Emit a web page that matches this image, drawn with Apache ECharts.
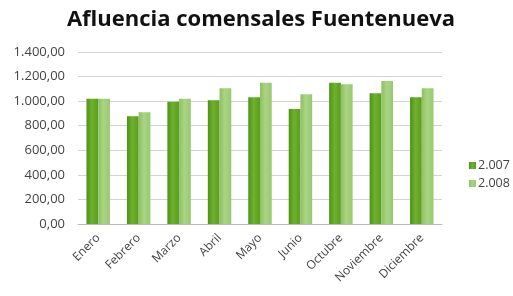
<!DOCTYPE html>
<html>
<head>
<meta charset="utf-8">
<script src="https://cdn.jsdelivr.net/npm/echarts@6/dist/echarts.min.js"></script>
<style>
  html, body { margin: 0; padding: 0; background: #fff; }
  #main { width: 513px; height: 296px; }
</style>
</head>
<body>
<div id="main"></div>
<script>
// datos
var meses = ['Enero', 'Febrero', 'Marzo', 'Abril', 'Mayo', 'Junio', 'Octubre', 'Noviembre', 'Diciembre'];
var serie2007 = [1020, 877, 995, 1007, 1031, 936, 1150, 1064, 1031];
var serie2008 = [1020, 909, 1020, 1104, 1150, 1056, 1137, 1164, 1104];
var yTicks = [0, 200, 400, 600, 800, 1000, 1200, 1400];

function fmt(v) {
  // 1400 -> "1.400,00"
  var s = String(Math.round(v));
  s = s.replace(/\B(?=(\d{3})+(?!\d))/g, '.');
  return s + ',00';
}

var myChart = echarts.init(document.getElementById('main'));
myChart.setOption({
  backgroundColor: '#fff',
  animation: false,
  title: {
    text: 'Afluencia comensales Fuentenueva',
    left: 256,
    textAlign: 'center',
    top: 4,
    textStyle: {
      fontFamily: 'Open Sans',
      fontWeight: 'bold',
      fontSize: 22,
      color: '#111'
    }
  },
  legend: {
    orient: 'vertical',
    left: 464,
    top: 154,
    itemWidth: 7,
    itemHeight: 7,
    itemGap: 5,
    icon: 'rect',
    textStyle: { fontFamily: 'Open Sans', fontSize: 12.5, color: '#444', padding: [0, 0, 0, -3] },
    data: ['2.007', '2.008']
  },
  grid: {
    left: 78,
    right: 71,
    top: 52,
    bottom: 72
  },
  xAxis: {
    type: 'category',
    data: meses,
    axisTick: { show: false },
    axisLine: { lineStyle: { color: '#bbb' } },
    axisLabel: {
      interval: 0,
      rotate: 45,
      fontFamily: 'Open Sans',
      fontSize: 12,
      color: '#444',
      margin: 12
    }
  },
  yAxis: {
    type: 'value',
    min: yTicks[0],
    max: yTicks[yTicks.length - 1],
    interval: 200,
    axisLine: { show: false },
    axisTick: { show: false },
    splitLine: { lineStyle: { color: '#d4d4d4' } },
    axisLabel: {
      formatter: fmt,
      fontFamily: 'Open Sans',
      fontSize: 13,
      color: '#444',
      margin: 13
    }
  },
  series: [{
    name: '2.007',
    type: 'bar',
    data: serie2007,
    barGap: '0%',
    barCategoryGap: '42%',
    itemStyle: {
      color: new echarts.graphic.LinearGradient(0, 0, 1, 0, [
        { offset: 0, color: '#4f9018' },
        { offset: 0.45, color: '#6db22c' },
        { offset: 1, color: '#5b9c22' }
      ])
    }
  }, {
    name: '2.008',
    type: 'bar',
    data: serie2008,
    itemStyle: {
      color: new echarts.graphic.LinearGradient(0, 0, 1, 0, [
        { offset: 0, color: '#8cc062' },
        { offset: 0.45, color: '#a9d581' },
        { offset: 1, color: '#98c873' }
      ])
    }
  }]
});
</script>
</body>
</html>
